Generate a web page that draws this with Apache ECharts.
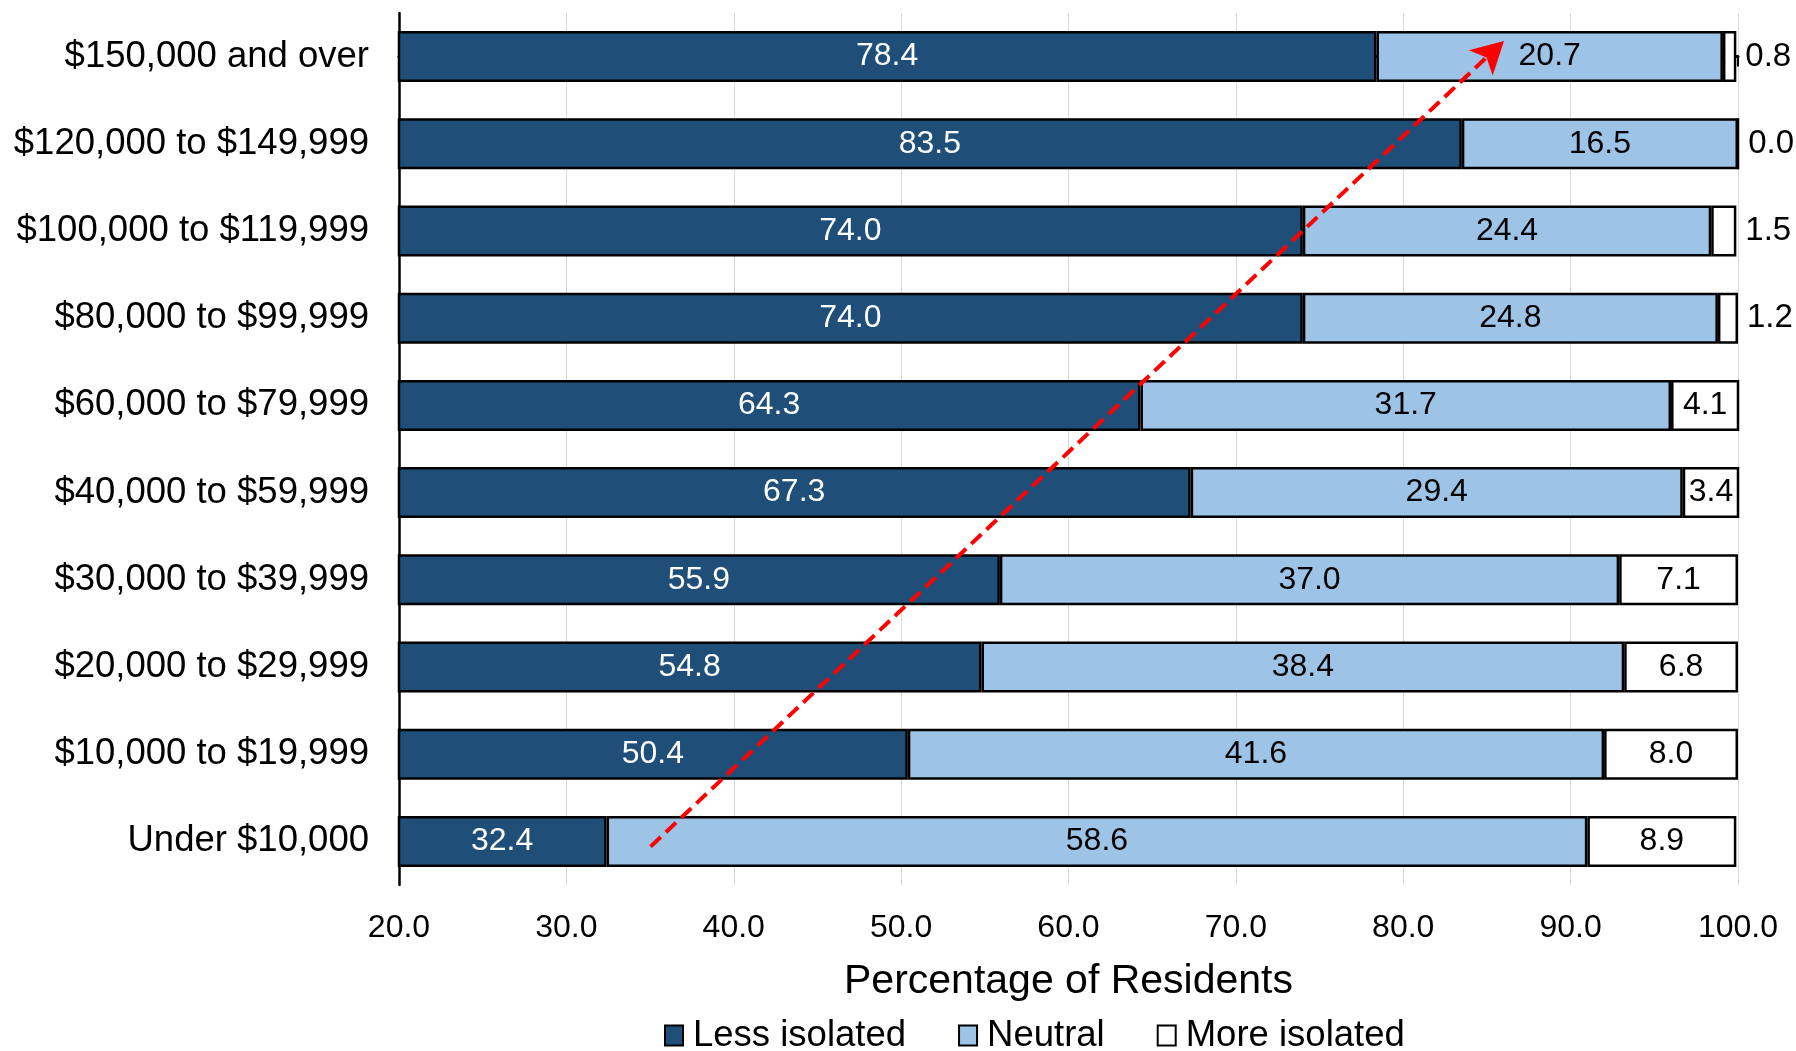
<!DOCTYPE html>
<html><head><meta charset="utf-8">
<script src="https://cdn.jsdelivr.net/npm/echarts@6/dist/echarts.min.js"></script>
<style>html,body{margin:0;padding:0;background:#fff}#c{width:1796px;height:1051px}</style>
</head><body><div id="c"></div>
<script>
const categories = ['$150,000 and over','$120,000 to $149,999','$100,000 to $119,999','$80,000 to $99,999','$60,000 to $79,999','$40,000 to $59,999','$30,000 to $39,999','$20,000 to $29,999','$10,000 to $19,999','Under $10,000'];
const lessIsolated = [78.4, 83.5, 74.0, 74.0, 64.3, 67.3, 55.9, 54.8, 50.4, 32.4];
const neutral = [20.7, 16.5, 24.4, 24.8, 31.7, 29.4, 37.0, 38.4, 41.6, 58.6];
const moreIsolated = [0.8, 0.0, 1.5, 1.2, 4.1, 3.4, 7.1, 6.8, 8.0, 8.9];
const xTicks = [20, 30, 40, 50, 60, 70, 80, 90, 100];
const seriesNames = ['Less isolated', 'Neutral', 'More isolated'];
const arrowStart = [35.03, 9.06];
const arrowEnd = [86.02, -0.18];

const FONT = '"Liberation Sans", Arial, sans-serif';
const border = {borderColor: '#000', borderWidth: 2.5};
const fmt = p => Number(p.value).toFixed(1);

function barSeries(name, data, color, labelColor, outsideSmall) {
  return {
    name, type: 'bar', stack: 'total', barWidth: 51,
    itemStyle: Object.assign({color}, border),
    label: {show: true, position: 'inside', color: labelColor, fontSize: 32, fontFamily: FONT, formatter: fmt},
    data: data.map(v => outsideSmall && v < 2
      ? {value: v, label: {position: 'right', distance: 9, color: '#000', fontSize: 33}}
      : v)
  };
}

const chart = echarts.init(document.getElementById('c'));
chart.setOption({
  animation: false,
  textStyle: {fontFamily: FONT},
  grid: {left: 399, right: 58, top: 13, bottom: 166, containLabel: false},
  xAxis: {
    type: 'value', min: xTicks[0], max: xTicks[xTicks.length - 1], interval: 10,
    name: 'Percentage of Residents', nameLocation: 'middle', nameGap: 76, nameMoveOverlap: false,
    nameTextStyle: {fontSize: 41, color: '#000', fontFamily: FONT},
    axisLine: {show: true, lineStyle: {color: '#000', width: 3}},
    axisTick: {show: true, length: 10, lineStyle: {color: '#000', width: 2}},
    axisLabel: {fontSize: 32, color: '#000', margin: 27, formatter: v => v.toFixed(1)},
    splitLine: {show: true, lineStyle: {color: '#d9d9d9', width: 1}}
  },
  yAxis: [{
    type: 'category', data: categories, inverse: true,
    axisLine: {show: true, lineStyle: {color: '#000', width: 2.5}},
    axisTick: {show: false},
    axisLabel: {fontSize: 36.5, color: '#000', margin: 30}
  }, {
    type: 'value', min: -0.5, max: 9.5, inverse: true, show: false
  }],
  legend: {
    data: seriesNames, left: 664, top: 1017, icon: 'rect', padding: 0,
    itemWidth: 18, itemHeight: 20, itemGap: 52,
    textStyle: {fontSize: 36.5, lineHeight: 32, color: '#000', fontFamily: FONT, padding: [0, 0, 0, 5]}
  },
  series: [
    barSeries(seriesNames[0], lessIsolated, '#1f4e79', '#fff', false),
    barSeries(seriesNames[1], neutral, '#9dc3e6', '#000', false),
    barSeries(seriesNames[2], moreIsolated, '#ffffff', '#000', true),
    {
      type: 'line', yAxisIndex: 1, data: [arrowStart, arrowEnd],
      symbol: 'none', lineStyle: {opacity: 0}, silent: true,
      markLine: {
        silent: true, symbol: ['none', 'arrow'], symbolSize: [26, 32],
        label: {show: false},
        lineStyle: {color: '#ff0000', width: 4, type: [14, 7]},
        data: [[{coord: arrowStart}, {coord: arrowEnd}]]
      }
    }
  ]
});
</script></body></html>
